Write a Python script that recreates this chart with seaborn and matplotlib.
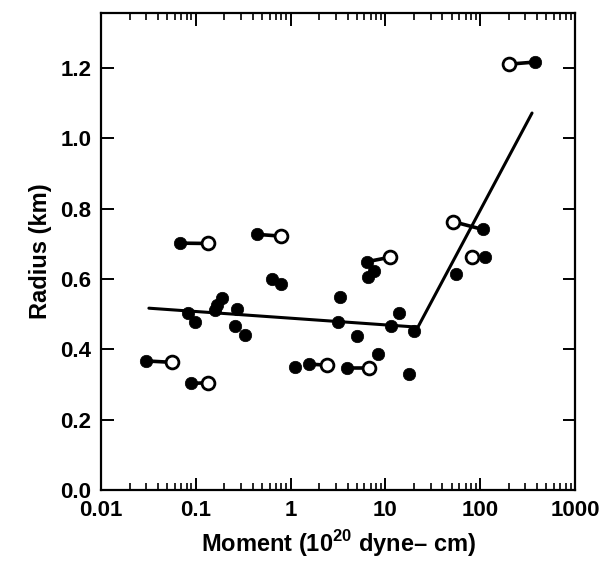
import matplotlib
matplotlib.use("Agg")
import matplotlib.pyplot as plt
import seaborn as sns
import numpy as np
import pandas as pd
from matplotlib.ticker import LogLocator, FixedLocator, NullFormatter

# single filled events
single_moment = [3.32, 0.187, 0.168, 0.16, 0.27, 0.083, 0.098, 0.26, 0.33, 3.18,
                 1.11, 8.41, 17.9, 5.06, 11.4, 14.0, 20.2, 7.59, 6.6, 55.6, 0.632, 0.787]
single_radius = [0.550, 0.545, 0.525, 0.512, 0.514, 0.502, 0.477, 0.467, 0.441, 0.479,
                 0.349, 0.386, 0.329, 0.438, 0.466, 0.504, 0.452, 0.624, 0.605, 0.614, 0.600, 0.586]

# paired events: filled estimate linked to open estimate
pair_filled_moment = [0.030, 0.068, 0.088, 0.438, 1.57, 3.9, 6.35, 106, 112.5, 378]
pair_filled_radius = [0.367, 0.702, 0.303, 0.727, 0.358, 0.346, 0.649, 0.741, 0.662, 1.217]
pair_open_moment = [0.0557, 0.1355, 0.1355, 0.79, 2.40, 6.77, 11.2, 52, 81, 201]
pair_open_radius = [0.363, 0.701, 0.305, 0.722, 0.355, 0.346, 0.662, 0.763, 0.662, 1.211]

# fitted piecewise line
fit_moment = [0.032, 22, 352]
fit_radius = [0.517, 0.463, 1.072]

y_ticks = [0.0, 0.2, 0.4, 0.6, 0.8, 1.0, 1.2]
x_ticks = [0.01, 0.1, 1, 10, 100, 1000]
x_ticklabels = ["0.01", "0.1", "1", "10", "100", "1000"]

sns.set_style("ticks")
plt.rcParams['font.family'] = ['Liberation Sans', 'DejaVu Sans']
plt.rcParams['text.color'] = 'black'
plt.rcParams['axes.labelcolor'] = 'black'
plt.rcParams['xtick.color'] = 'black'
plt.rcParams['ytick.color'] = 'black'
plt.rcParams['axes.edgecolor'] = 'black'
plt.rcParams['mathtext.fontset'] = 'custom'
plt.rcParams['mathtext.bf'] = 'Liberation Sans:bold'
plt.rcParams['mathtext.rm'] = 'Liberation Sans:bold'

fig = plt.figure(figsize=(6.03, 5.73), dpi=100)
ax = fig.add_axes([0.1675, 0.1449, 0.9536 - 0.1675, 0.977 - 0.1449])

fit_df = pd.DataFrame({"m": fit_moment, "r": fit_radius})
sns.lineplot(data=fit_df, x="m", y="r", ax=ax, color="black", lw=2.2, sort=False, zorder=2)

for xf, yf, xo, yo in zip(pair_filled_moment, pair_filled_radius, pair_open_moment, pair_open_radius):
    ax.plot([xf, xo], [yf, yo], color="black", lw=2.6, zorder=2, solid_capstyle="butt")

open_df = pd.DataFrame({"m": pair_open_moment, "r": pair_open_radius})
sns.scatterplot(data=open_df, x="m", y="r", ax=ax, s=85, facecolor="white",
                edgecolor="black", linewidth=2.0, zorder=3)

filled_df = pd.DataFrame({"m": single_moment + pair_filled_moment,
                          "r": single_radius + pair_filled_radius})
sns.scatterplot(data=filled_df, x="m", y="r", ax=ax, s=80, color="black",
                edgecolor="black", linewidth=0.5, zorder=4)

ax.set_xscale("log")
ax.set_xlim(0.01, 1000)
ax.set_ylim(0, 1.356)

ax.xaxis.set_major_locator(FixedLocator(x_ticks))
ax.set_xticklabels(x_ticklabels)
ax.xaxis.set_minor_locator(LogLocator(base=10, subs=np.arange(2, 10)))
ax.xaxis.set_minor_formatter(NullFormatter())
ax.set_yticks(y_ticks)
ax.set_yticklabels([f"{v:.1f}" for v in y_ticks])

ax.tick_params(axis="both", which="major", direction="in", top=True, right=True,
               length=9, width=1.4, labelsize=16, pad=7, colors="black")
ax.tick_params(axis="x", which="minor", direction="in", top=True, bottom=True,
               length=5, width=1.2, colors="black")
for lab in ax.get_xticklabels() + ax.get_yticklabels():
    lab.set_fontweight("bold")

for sp in ax.spines.values():
    sp.set_visible(True)
    sp.set_linewidth(1.6)
    sp.set_color("black")

ax.set_xlabel("Moment (10$^{\\mathbf{20}}$ dyne– cm)", fontsize=17, fontweight="bold",
              labelpad=5, color="black")
ax.set_ylabel("Radius (km)", fontsize=17, fontweight="bold", labelpad=6, color="black")

fig.savefig("out.png", dpi=100)
